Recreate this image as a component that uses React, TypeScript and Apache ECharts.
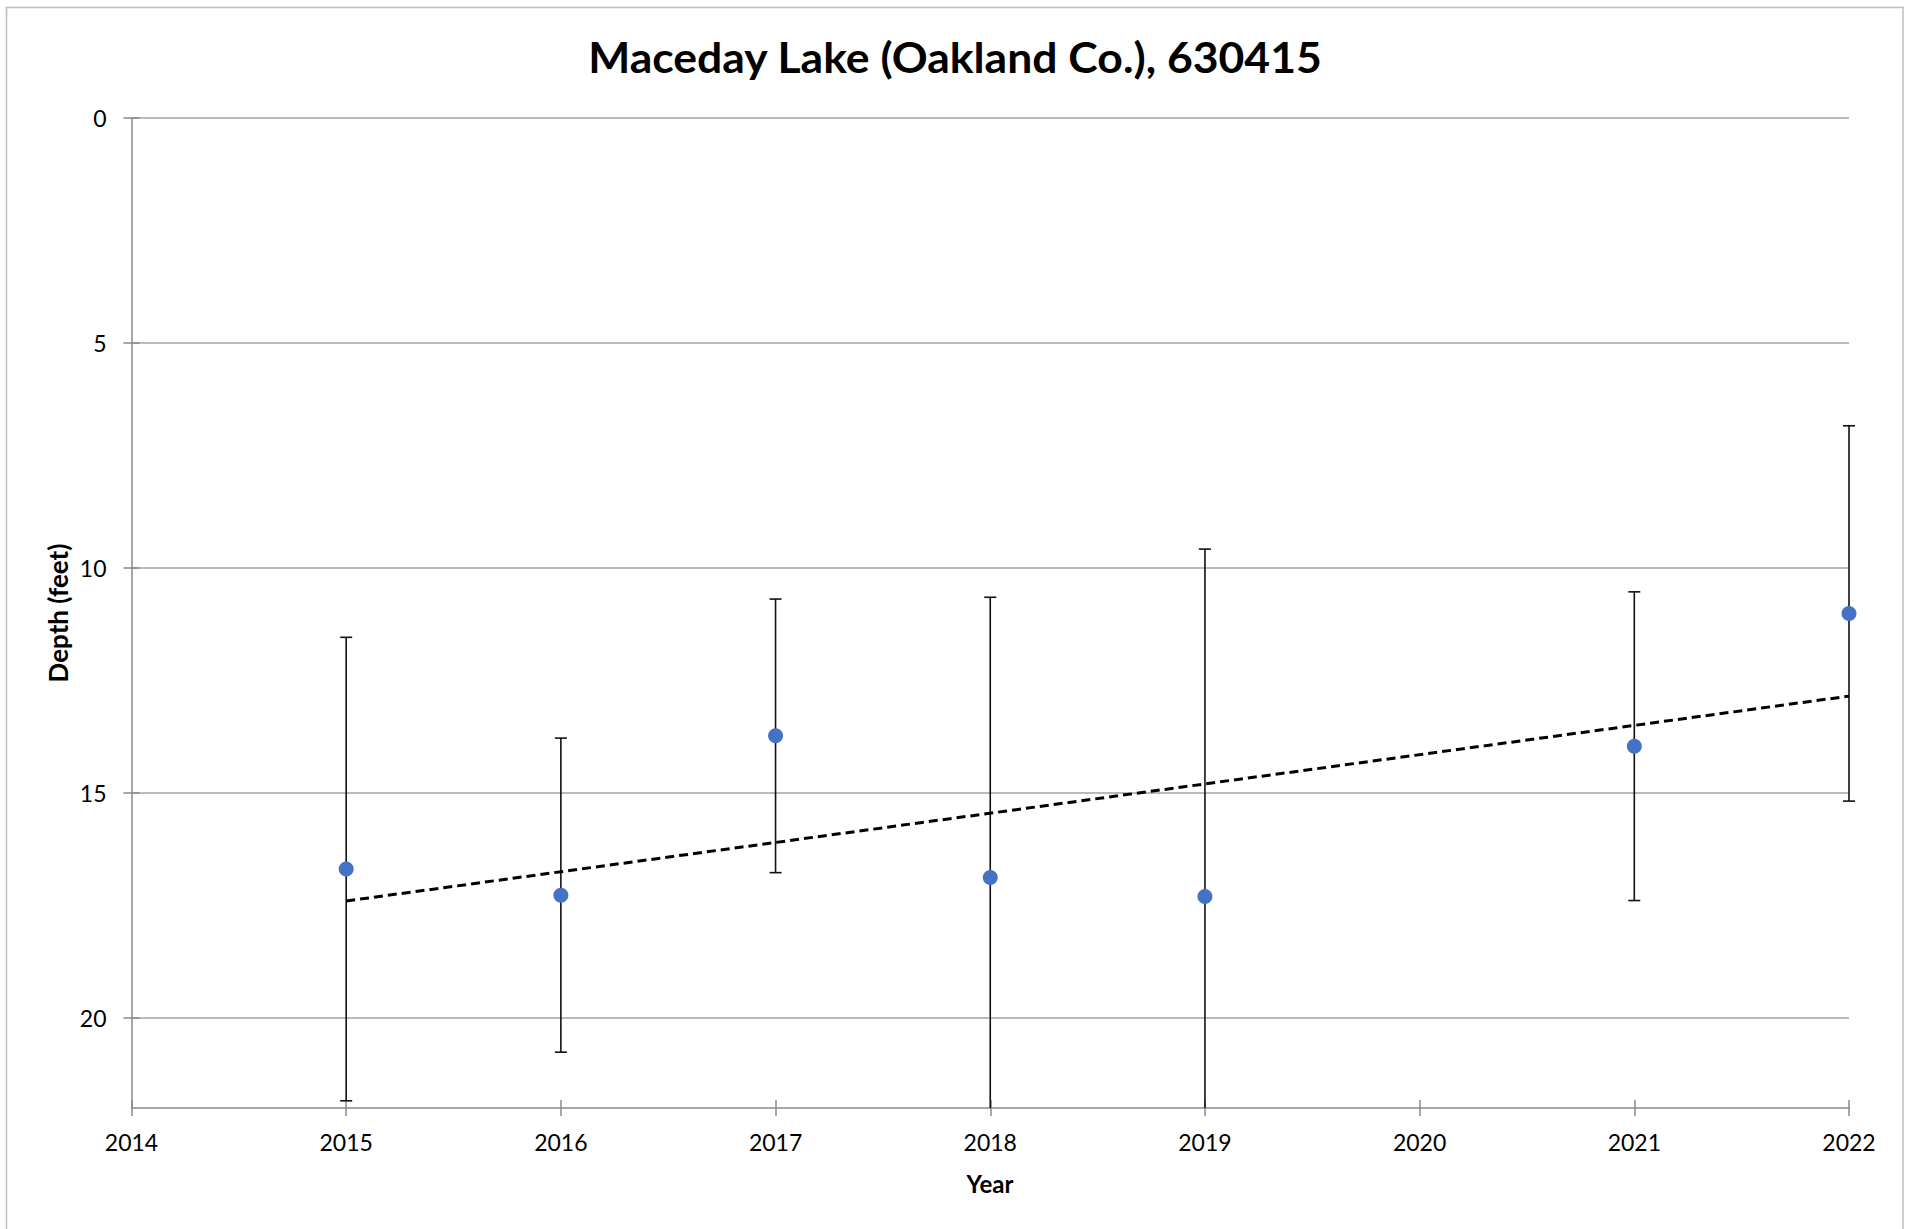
import React, { useEffect, useRef } from "react";
import * as echarts from "echarts";

const titleText = "Maceday Lake (Oakland Co.), 630415";
const xAxisName = "Year";
const yAxisName = "Depth (feet)";

const years = [2015, 2016, 2017, 2018, 2019, 2021, 2022];
const depths = [16.69, 17.27, 13.73, 16.88, 17.3, 13.96, 11.01];
const errors = [5.15, 3.49, 3.04, 6.23, 7.72, 3.43, 4.17];

const yTickValues = [0, 5, 10, 15, 20];
const xMin = 2014;
const xMax = 2022;
const yMin = 0;
const yMax = 22;

function regression(xs: number[], ys: number[]) {
  const n = xs.length;
  const mx = xs.reduce((a, b) => a + b, 0) / n;
  const my = ys.reduce((a, b) => a + b, 0) / n;
  let sxy = 0;
  let sxx = 0;
  for (let i = 0; i < n; i++) {
    sxy += (xs[i] - mx) * (ys[i] - my);
    sxx += (xs[i] - mx) * (xs[i] - mx);
  }
  const slope = sxy / sxx;
  return { slope, intercept: my - slope * mx };
}

export default function App() {
  const ref = useRef<HTMLDivElement>(null);

  useEffect(() => {
    if (!ref.current) return;
    const chart = echarts.init(ref.current, null, { renderer: "svg" });

    const reg = regression(years, depths);
    const x0 = years[0];
    const x1 = years[years.length - 1];
    const trendData = [
      [x0, reg.intercept + reg.slope * x0],
      [x1, reg.intercept + reg.slope * x1],
    ];
    const errData = years.map((y, i) => [y, depths[i] - errors[i], depths[i] + errors[i]]);

    const font = "Lato";
    const axisGray = "#8a8a8a";
    const gridRect = {
      left: 131.5,
      right: 57,
      top: 118,
      bottom: 121,
      containLabel: false,
      outerBoundsMode: "none",
    };

    chart.setOption({
      animation: false,
      backgroundColor: "#ffffff",
      grid: [gridRect, { ...gridRect }],
      xAxis: [
        {
          type: "value",
          gridIndex: 0,
          min: xMin,
          max: xMax,
          interval: 1,
          position: "bottom",
          axisLine: { show: true, onZero: false, lineStyle: { color: axisGray, width: 1.5 } },
          axisTick: { show: true, inside: false, length: 8, lineStyle: { color: axisGray, width: 1.5 } },
          axisLabel: {
            margin: 22,
            fontFamily: font,
            fontSize: 23,
            color: "#000",
            formatter: (v: number) => String(v),
          },
          splitLine: { show: false },
        },
        {
          type: "value",
          gridIndex: 1,
          min: xMin,
          max: xMax,
          interval: 1,
          position: "bottom",
          axisLine: { show: false, onZero: false },
          axisTick: { show: true, inside: true, length: 8, lineStyle: { color: axisGray, width: 1.5 } },
          axisLabel: { show: false },
          splitLine: { show: false },
        },
      ],
      yAxis: [
        {
          type: "value",
          gridIndex: 0,
          inverse: true,
          min: yMin,
          max: yMax,
          interval: 5,
          position: "left",
          axisLine: { show: true, onZero: false, lineStyle: { color: axisGray, width: 1.5 } },
          axisTick: {
            show: true,
            inside: false,
            length: 8,
            lineStyle: { color: axisGray, width: 1.5 },
            customValues: yTickValues,
          },
          axisLabel: {
            margin: 25,
            fontFamily: font,
            fontSize: 23,
            color: "#000",
            customValues: yTickValues,
            formatter: (v: number) => (yTickValues.indexOf(v) >= 0 ? String(v) : ""),
          },
          splitLine: { show: true, lineStyle: { color: "#bababa", width: 2 } },
        },
        {
          type: "value",
          gridIndex: 1,
          inverse: true,
          min: yMin,
          max: yMax,
          interval: 5,
          position: "left",
          axisLine: { show: false, onZero: false },
          axisTick: {
            show: true,
            inside: true,
            length: 8,
            lineStyle: { color: axisGray, width: 1.5 },
            customValues: yTickValues,
          },
          axisLabel: { show: false },
          splitLine: { show: false },
        },
      ],
      graphic: [
        {
          type: "rect",
          shape: { x: 6.5, y: 7.5, width: 1896.5, height: 1230 },
          style: { fill: "none", stroke: "#bdbdbd", lineWidth: 1.5 },
          silent: true,
          z: -10,
        },
        {
          type: "text",
          x: 955,
          y: 57,
          scaleX: 1.06,
          style: {
            text: titleText,
            font: `bold 42px ${font}`,
            fill: "#000",
            textAlign: "center",
            textVerticalAlign: "middle",
          },
        },
        {
          type: "text",
          x: 990,
          y: 1183,
          style: {
            text: xAxisName,
            font: `bold 24px ${font}`,
            fill: "#000",
            textAlign: "center",
            textVerticalAlign: "middle",
          },
        },
        {
          type: "text",
          x: 58,
          y: 613,
          rotation: Math.PI / 2,
          style: {
            text: yAxisName,
            font: `bold 26px ${font}`,
            fill: "#000",
            textAlign: "center",
            textVerticalAlign: "middle",
          },
        },
      ],
      series: [
        {
          type: "custom",
          xAxisIndex: 0,
          yAxisIndex: 0,
          z: 2,
          data: errData,
          encode: { x: 0, y: [1, 2] },
          renderItem: (params: any, api: any) => {
            const x = api.value(0);
            const lo = api.value(1);
            const hi = api.value(2);
            const pTop = api.coord([x, lo]);
            const pBot = api.coord([x, hi]);
            const cs = params.coordSys;
            const top = cs.y;
            const bottom = cs.y + cs.height;
            let y1 = Math.min(pTop[1], pBot[1]);
            let y2 = Math.max(pTop[1], pBot[1]);
            const capTop = y1 >= top;
            const capBot = y2 <= bottom;
            y1 = Math.max(y1, top);
            y2 = Math.min(y2, bottom);
            const px = pTop[0];
            const st = { stroke: "#111111", lineWidth: 1.6 };
            const children: any[] = [
              { type: "line", shape: { x1: px, y1, x2: px, y2 }, style: st },
            ];
            if (capTop) children.push({ type: "line", shape: { x1: px - 6, y1, x2: px + 6, y2: y1 }, style: st });
            if (capBot) children.push({ type: "line", shape: { x1: px - 6, y1: y2, x2: px + 6, y2 }, style: st });
            return { type: "group", children };
          },
        },
        {
          type: "line",
          xAxisIndex: 0,
          yAxisIndex: 0,
          data: trendData,
          z: 3,
          symbol: "none",
          lineStyle: { color: "#000", width: 3, type: [9, 5] },
          silent: true,
        },
        {
          type: "scatter",
          xAxisIndex: 0,
          yAxisIndex: 0,
          data: years.map((y, i) => [y, depths[i]]),
          z: 4,
          symbol: "circle",
          symbolSize: 15,
          itemStyle: { color: "#4472C4", opacity: 1 },
        },
      ],
    });

    return () => chart.dispose();
  }, []);

  return (
    <div
      ref={ref}
      style={{ position: "absolute", left: 0, top: 0, width: 1906, height: 1229 }}
    />
  );
}
